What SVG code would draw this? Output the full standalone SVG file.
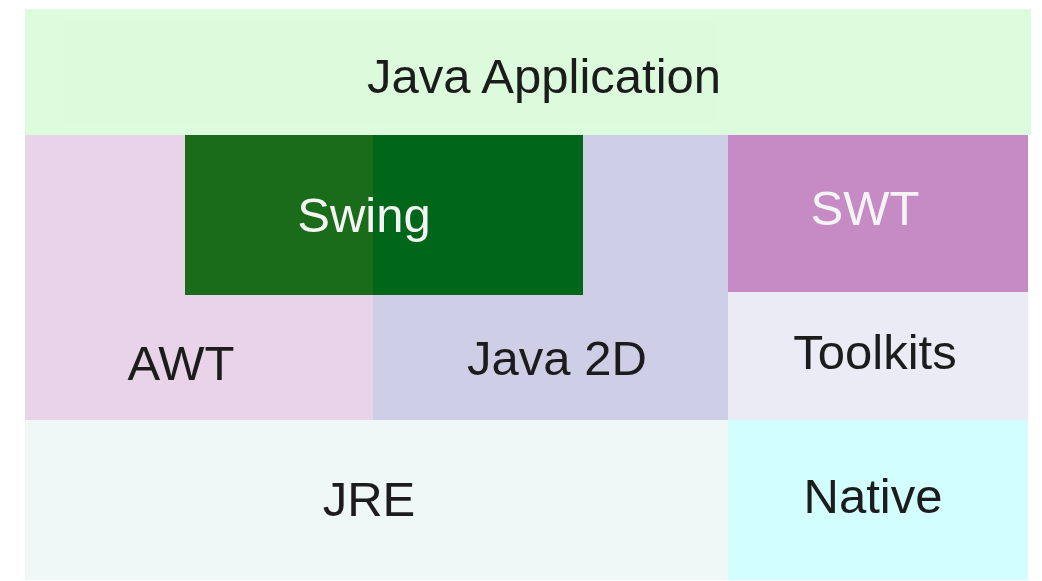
<svg xmlns="http://www.w3.org/2000/svg" width="1042" height="581" viewBox="0 0 1042 581">
<style>
text{font-family:"Liberation Sans",Arial,sans-serif;font-size:49px;text-anchor:middle}
.dark{fill:#1c1c1c}
.light{fill:#f4f4f4}
</style>
<rect width="1042" height="581" fill="#ffffff"/>
<g id="java-application">
<rect x="25" y="9" width="1006" height="126" fill="#ddfbdd"/>
<rect x="63" y="22" width="655" height="100" fill="#dcfadc"/>
<text class="dark" x="544" y="93">Java Application</text>
</g>
<g id="awt">
<rect x="25" y="135" width="348" height="285" fill="#e8d3e8"/>
<text class="dark" x="181" y="380">AWT</text>
</g>
<g id="java-2d">
<rect x="373" y="135" width="355" height="285" fill="#cecee6"/>
<text class="dark" x="557" y="375">Java 2D</text>
</g>
<g id="swing">
<rect x="185" y="135" width="188" height="160" fill="#1a6b1a"/>
<rect x="373" y="135" width="210" height="160" fill="#00661a"/>
<text class="light" x="364" y="232">Swing</text>
</g>
<g id="swt">
<rect x="728" y="135" width="300" height="157" fill="#c68ac4"/>
<text class="light" x="865" y="225">SWT</text>
</g>
<g id="toolkits">
<rect x="728" y="292" width="300" height="128" fill="#ebebf5"/>
<text class="dark" x="875" y="369">Toolkits</text>
</g>
<g id="jre">
<rect x="25" y="420" width="703" height="160" fill="#eff8f7"/>
<text class="dark" x="369" y="516">JRE</text>
</g>
<g id="native">
<rect x="728" y="420" width="300" height="160" fill="#d2fefe"/>
<text class="dark" x="873" y="513">Native</text>
</g>
<g id="connectors"></g>
</svg>
